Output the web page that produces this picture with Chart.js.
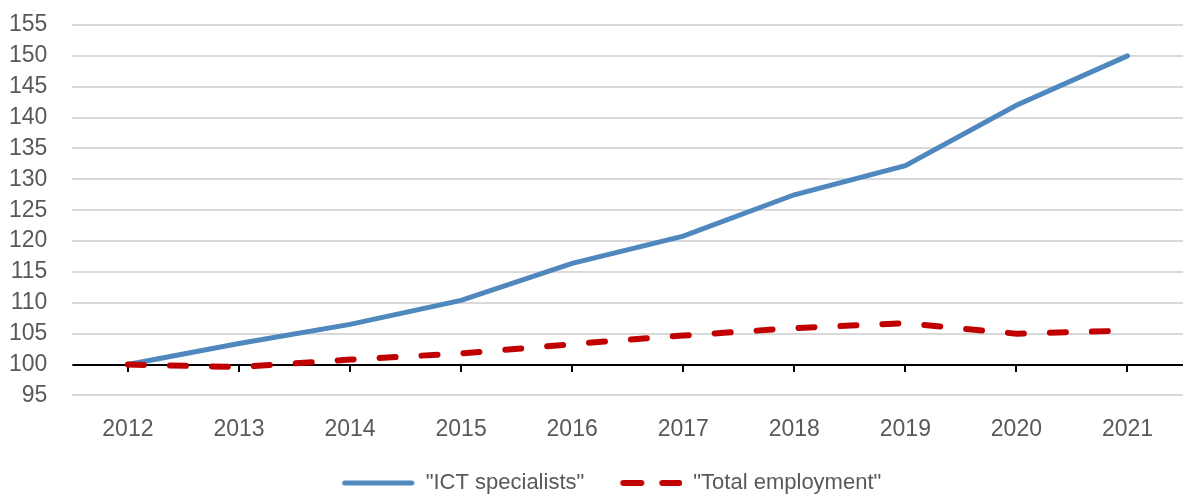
<!DOCTYPE html>
<html>
<head>
<meta charset="utf-8">
<script src="https://cdn.jsdelivr.net/npm/chart.js@4/dist/chart.umd.min.js"></script>
<style>
  html, body { margin: 0; padding: 0; background: #fff; }
  #wrap { width: 1183px; height: 494px; }
</style>
</head>
<body>
<div id="wrap"><canvas id="canvas"></canvas></div>
<script>
var years = ["2012", "2013", "2014", "2015", "2016", "2017", "2018", "2019", "2020", "2021"];
var ictSpecialists = [100, 103.4, 106.5, 110.4, 116.4, 120.8, 127.5, 132.2, 142.0, 150.0];
var totalEmployment = [100, 99.6, 100.8, 101.8, 103.3, 104.7, 105.9, 106.7, 105.0, 105.5];
var yMin = 95;
var yMax = 155;
var baseValue = 100;

var blue = "#4f87bf";
var red = "#c00000";
var textColor = "#595959";
var fontFamily = "'Liberation Sans', Arial, sans-serif";

// small line samples for the legend (blank on the left keeps the item gap)
function legendSample(color, width, dashes) {
  var c = document.createElement("canvas");
  c.width = 81;
  c.height = 10;
  var g = c.getContext("2d");
  g.strokeStyle = color;
  g.lineWidth = width;
  g.lineCap = "round";
  g.beginPath();
  for (var i = 0; i < dashes.length; i++) {
    g.moveTo(dashes[i][0], 5);
    g.lineTo(dashes[i][1], 5);
  }
  g.stroke();
  return c;
}
var blueSample = legendSample(blue, 5, [[11, 78]]);
var redSample = legendSample(red, 6, [[22, 40], [61, 78]]);

// axis line at 100 with tick marks under each year
var baseLine = {
  id: "baseLine",
  beforeDatasetsDraw: function(chart) {
    var ctx = chart.ctx;
    var x = chart.scales.x;
    var y = chart.scales.y;
    var py = Math.round(y.getPixelForValue(baseValue));
    ctx.save();
    ctx.strokeStyle = "#000";
    ctx.lineWidth = 2;
    ctx.beginPath();
    ctx.moveTo(chart.chartArea.left, py);
    ctx.lineTo(chart.chartArea.right, py);
    for (var i = 0; i < years.length; i++) {
      var px = Math.round(x.getPixelForValue(i));
      ctx.moveTo(px, py);
      ctx.lineTo(px, py + 7);
    }
    ctx.stroke();
    ctx.restore();
  }
};

// legend sits a little right of centre in the original
var legendShift = {
  id: "legendShift",
  afterLayout: function(chart) {
    chart.legend.left += 24;
    chart.legend.right += 24;
  }
};

var config = {
  type: "line",
  data: {
    labels: years,
    datasets: [
      {
        label: "\"ICT specialists\"",
        data: ictSpecialists,
        borderColor: blue,
        backgroundColor: blue,
        borderWidth: 5,
        borderCapStyle: "round",
        pointRadius: 0,
        pointStyle: blueSample,
        tension: 0,
        fill: false,
        order: 1
      },
      {
        label: "\"Total employment\"",
        data: totalEmployment,
        borderColor: red,
        backgroundColor: red,
        borderWidth: 6,
        borderDash: [16, 26],
        borderCapStyle: "round",
        pointRadius: 0,
        pointStyle: redSample,
        tension: 0,
        fill: false,
        order: 0
      }
    ]
  },
  options: {
    responsive: true,
    maintainAspectRatio: false,
    animation: false,
    layout: { padding: { top: 0, right: 0, left: -16, bottom: -10 } },
    plugins: {
      tooltip: { enabled: false },
      legend: {
        position: "bottom",
        reverse: true,
        labels: {
          usePointStyle: true,
          pointStyleWidth: 81,
          boxHeight: 22,
          padding: 17,
          color: textColor,
          font: { family: fontFamily, size: 22 }
        }
      }
    },
    scales: {
      x: {
        offset: true,
        grid: { display: false },
        border: { display: false },
        ticks: {
          color: textColor,
          padding: 12,
          font: { family: fontFamily, size: 23 },
          maxRotation: 0
        }
      },
      y: {
        min: yMin,
        max: yMax,
        border: { display: false },
        grid: { color: "#d9d9d9", lineWidth: 2, drawTicks: false },
        ticks: {
          stepSize: 5,
          autoSkip: false,
          color: textColor,
          padding: 25,
          font: { family: fontFamily, size: 23 }
        },
        afterFit: function(scale) {
          scale.paddingTop = 25;
          scale.paddingBottom = 14;
        }
      }
    }
  },
  plugins: [baseLine, legendShift]
};

window.onload = function() {
  var ctx = document.getElementById("canvas").getContext("2d");
  window.myLine = new Chart(ctx, config);
};
</script>
</body>
</html>
